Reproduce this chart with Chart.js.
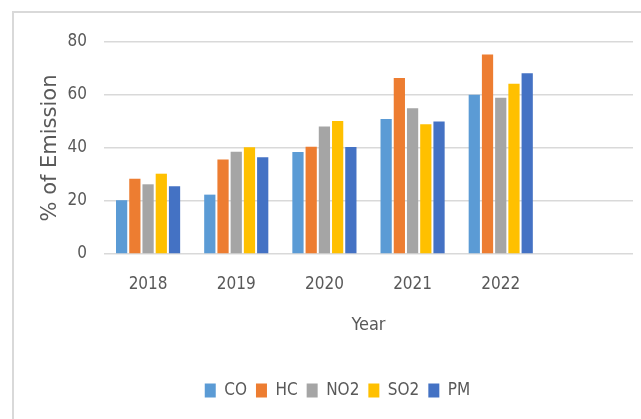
<!DOCTYPE html>
<html>
<head>
<meta charset="utf-8">
<script src="https://cdn.jsdelivr.net/npm/chart.js@4.4.0/dist/chart.umd.min.js"></script>
<style>
    html, body { margin: 0; padding: 0; background: #fff; overflow: hidden; }
    #frame { position: absolute; left: 12px; top: 11px; width: 700px; height: 500px;
             border-top: 2px solid #d9d9d9; border-left: 2px solid #d9d9d9; }
    #wrap { position: absolute; left: 0; top: 0; width: 641px; height: 419px; }
</style>
</head>
<body>
<div id="frame"></div>
<div id="wrap"><canvas id="grafico"></canvas></div>
<script>
const anos = ['2018', '2019', '2020', '2021', '2022', ''];
const co  = [20.3, 22.4, 38.5, 50.9, 60.1];
const hc  = [28.4, 35.7, 40.5, 66.4, 75.3];
const no2 = [26.3, 38.6, 48.1, 55.0, 59.0];
const so2 = [30.3, 40.3, 50.2, 49.0, 64.2];
const pm  = [25.6, 36.5, 40.4, 50.0, 68.2];
const yTicks = [0, 20, 40, 60, 80];

const cinza = '#595959';
const fonte = "'DejaVu Sans Condensed', 'Liberation Sans', sans-serif";

// a legenda do original fica um pouco deslocada para a direita
const moverLegenda = {
    id: 'moverLegenda',
    afterLayout(chart) {
        chart.legend.left += 21;
        chart.legend.right += 21;
    }
};

window.addEventListener('DOMContentLoaded', () => {
    const ctx = document.getElementById('grafico').getContext('2d');

    new Chart(ctx, {
        type: 'bar',
        data: {
            labels: anos,
            datasets: [
                { label: 'CO',  data: co,  backgroundColor: '#5b9bd5' },
                { label: 'HC',  data: hc,  backgroundColor: '#ed7d31' },
                { label: 'NO2', data: no2, backgroundColor: '#a5a5a5' },
                { label: 'SO2', data: so2, backgroundColor: '#ffc000' },
                { label: 'PM',  data: pm,  backgroundColor: '#4472c4' }
            ]
        },
        options: {
            responsive: true,
            maintainAspectRatio: false,
            animation: false,
            events: [],
            categoryPercentage: 0.75,
            barPercentage: 0.85,
            layout: { padding: { top: 42, right: 8, bottom: 10, left: 0 } },
            scales: {
                y: {
                    min: 0,
                    max: 80,
                    afterFit: s => { s.width = 104; },
                    afterBuildTicks: s => { s.ticks = yTicks.map(v => ({ value: v })); },
                    border: { display: false },
                    grid: { color: '#d9d9d9', lineWidth: 1.5, drawTicks: false },
                    ticks: { color: cinza, padding: 17, font: { family: fonte, size: 17 } },
                    title: {
                        display: true,
                        text: '% of Emission',
                        color: cinza,
                        padding: { top: 38, bottom: 0 },
                        font: { family: "'DejaVu Sans', sans-serif", size: 21 }
                    }
                },
                x: {
                    border: { display: false },
                    grid: { display: false, drawTicks: false },
                    ticks: { color: cinza, padding: 20, font: { family: fonte, size: 17 } },
                    title: {
                        display: true,
                        text: 'Year',
                        color: cinza,
                        padding: { top: 0, bottom: 37 },
                        font: { family: fonte, size: 18 }
                    }
                }
            },
            plugins: {
                tooltip: { enabled: false },
                legend: {
                    position: 'bottom',
                    labels: {
                        color: cinza,
                        boxWidth: 11,
                        boxHeight: 14,
                        padding: 9,
                        font: { family: fonte, size: 17 }
                    }
                }
            }
        },
        plugins: [moverLegenda]
    });
});
</script>
</body>
</html>
